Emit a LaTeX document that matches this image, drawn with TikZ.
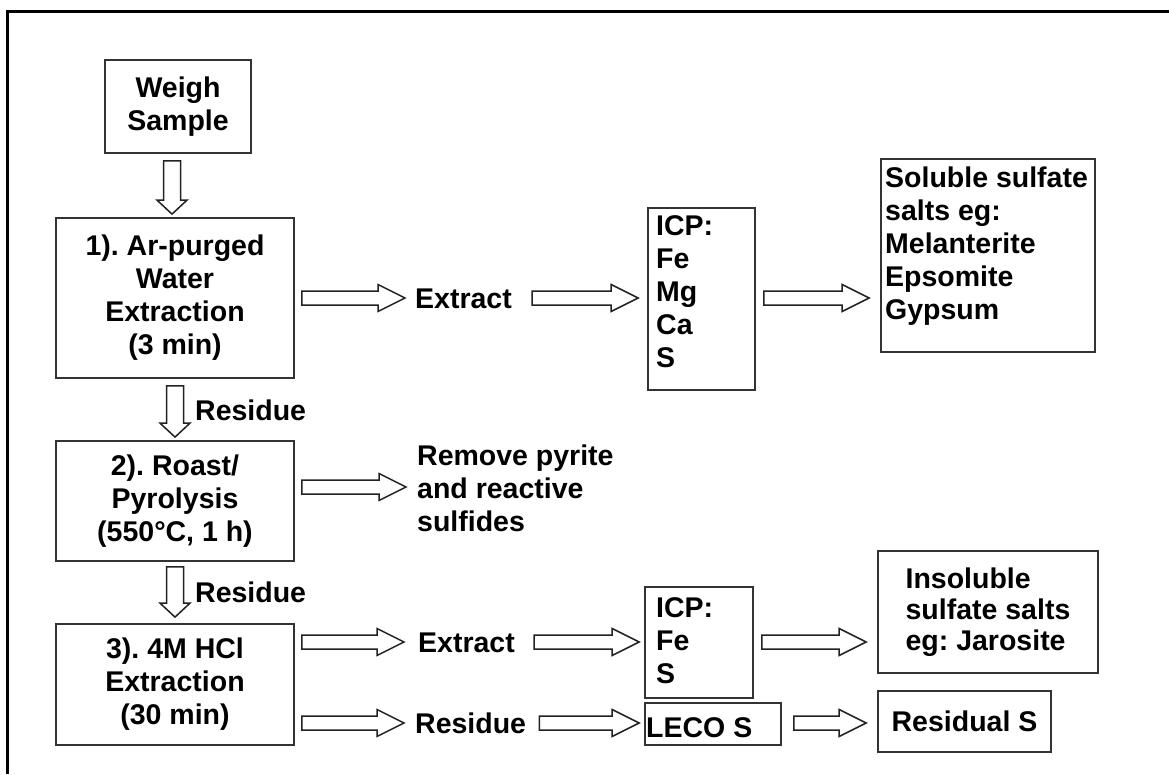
\documentclass[tikz,border=0pt]{standalone}
\usepackage{fontspec}
\setmainfont{Liberation Sans}
\usetikzlibrary{calc}
\definecolor{boxc}{HTML}{333333}
\definecolor{arrc}{HTML}{222222}
\newcommand{\harr}[2]{%
  \draw[blk] ($(#1)+(0,7)$) -- ($(#2)+(-27,7)$) -- ($(#2)+(-27,13.5)$) -- (#2)
    -- ($(#2)+(-27,-13.5)$) -- ($(#2)+(-27,-7)$) -- ($(#1)+(0,-7)$) -- cycle;}
\newcommand{\varr}[2]{%
  \draw[blk] ($(#1)+(-8.5,0)$) -- ($(#2)+(-8.5,-14)$) -- ($(#2)+(-15,-14)$) -- (#2)
    -- ($(#2)+(15,-14)$) -- ($(#2)+(8.5,-14)$) -- ($(#1)+(8.5,0)$) -- cycle;}
\frenchspacing
\begin{document}
\begin{tikzpicture}[x=1pt,y=-1pt,
  every node/.style={font=\frenchspacing\bfseries\fontsize{28.5}{33}\selectfont},
  box/.style={draw=boxc, line width=1.8pt, inner sep=0pt, align=center},
  txt/.style={inner sep=0pt, align=left},
  blk/.style={draw=arrc, line width=1.5pt, fill=white, line join=miter}]
\fill[white] (0,0) rectangle (1169,774);
\useasboundingbox (0,0) rectangle (1169,774);
% frame
\draw[line width=3pt] (7,774) -- (7,11) -- (1169,11);
% left column boxes
\node[box, minimum width=146, minimum height=93] (ws) at (178,106.5) {Weigh\\Sample};
\node[box, minimum width=238, minimum height=160] (b1) at (175,298) {1). Ar-purged\\Water\\Extraction\\(3 min)};
\node[box, minimum width=238, minimum height=120] (b2) at (175,501) {2). Roast/\\Pyrolysis\\(550°C, 1 h)};
\node[box, minimum width=238, minimum height=121] (b3) at (175,684.5) {3). 4M HCl\\Extraction\\(30 min)};
% right boxes
\node[box, minimum width=107, minimum height=182] (icp1) at (701.5,299) {};
\node[txt, anchor=north west] (icp1t) at (656,215) {ICP:\\Fe\\Mg\\Ca\\S};
\node[box, minimum width=214, minimum height=193] (sol) at (988,255.5) {};
\node[txt, anchor=north west] (solt) at (885,167) {Soluble sulfate\\salts eg:\\Melanterite\\Epsomite\\Gypsum};
\node[box, minimum width=108, minimum height=111] (icp2) at (699,642.5) {};
\node[txt, anchor=north west] (icp2t) at (656,597) {ICP:\\Fe\\S};
\node[box, minimum width=136, minimum height=42] (leco) at (713,724) {};
\node[txt, anchor=west] (lecot) at (646,728) {LECO S};
\node[box, minimum width=220, minimum height=122, align=left, font=\frenchspacing\bfseries\fontsize{28.5}{31}\selectfont] (ins) at (988,612) {Insoluble\\sulfate salts\\eg: Jarosite};
\node[box, minimum width=173, minimum height=61] (res) at (964.5,721.5) {Residual S};
% labels
\node[txt, anchor=west] (e1) at (415,299) {Extract};
\node[txt, anchor=north west] (rm) at (417,445) {Remove pyrite\\and reactive\\sulfides};
\node[txt, anchor=west] (e2) at (418,643) {Extract};
\node[txt, anchor=west] (r2) at (415,723) {Residue};
\node[txt, anchor=west] (rl1) at (195,410) {Residue};
\node[txt, anchor=west] (rl2) at (195,592) {Residue};
% vertical arrows
\path ($(ws.south)+(-6,7)$) coordinate (v1a);
\path (v1a |- b1.north) ++(0,-3) coordinate (v1b);
\varr{v1a}{v1b}
\path ($(b1.south)+(0,7)$) coordinate (v2a);
\path ($(b2.north)+(0,-3)$) coordinate (v2b);
\varr{v2a}{v2b}
\path ($(b2.south)+(0,5)$) coordinate (v3a);
\path ($(b3.north)+(0,-6)$) coordinate (v3b);
\varr{v3a}{v3b}
% horizontal arrows
\path ($(b1.east)+(7,0)$) coordinate (h1a);
\path (h1a -| e1.west) ++(-10,0) coordinate (h1b);
\harr{h1a}{h1b}
\path (h1a -| e1.east) ++(20,0) coordinate (h2a);
\path (h2a -| icp1.west) ++(-9,0) coordinate (h2b);
\harr{h2a}{h2b}
\path (h1a -| icp1.east) ++(8,0) coordinate (h3a);
\path (h3a -| sol.west) ++(-11,0) coordinate (h3b);
\harr{h3a}{h3b}
\path ($(b2.east)+(7,-14)$) coordinate (h4a);
\path (h4a -| rm.west) ++(-11,0) coordinate (h4b);
\harr{h4a}{h4b}
\path ($(b3.east)+(7,-42.5)$) coordinate (h5a);
\path (h5a -| e2.west) ++(-14,0) coordinate (h5b);
\harr{h5a}{h5b}
\path (h5a -| e2.east) ++(19,0) coordinate (h6a);
\path (h6a -| icp2.west) ++(-5,0) coordinate (h6b);
\harr{h6a}{h6b}
\path (h5a -| icp2.east) ++(8,0) coordinate (h7a);
\path (h7a -| ins.west) ++(-11,0) coordinate (h7b);
\harr{h7a}{h7b}
\path ($(b3.east)+(7,38.5)$) coordinate (h8a);
\path (h8a -| r2.west) ++(-11,0) coordinate (h8b);
\harr{h8a}{h8b}
\path (h8a -| r2.east) ++(13,0) coordinate (h9a);
\path (h9a -| leco.west) ++(-5,0) coordinate (h9b);
\harr{h9a}{h9b}
\path (h8a -| leco.east) ++(12,0) coordinate (h10a);
\path (h10a -| res.west) ++(-11,0) coordinate (h10b);
\harr{h10a}{h10b}
\end{tikzpicture}
\end{document}
